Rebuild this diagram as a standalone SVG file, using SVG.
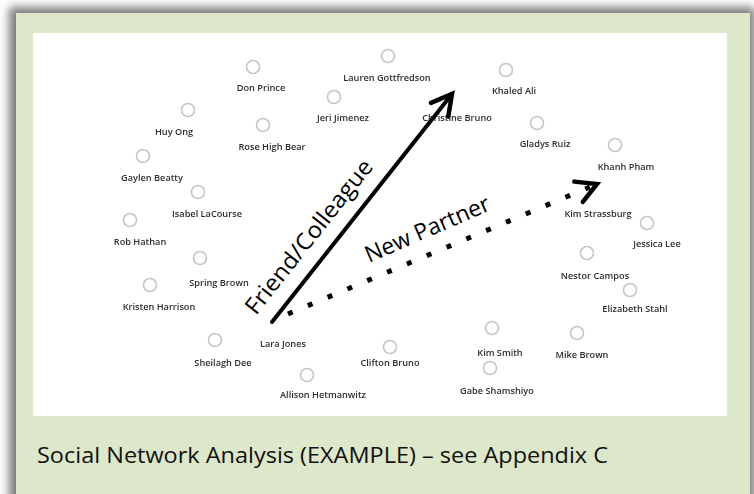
<svg xmlns="http://www.w3.org/2000/svg" width="754" height="494" viewBox="0 0 754 494">
<style>
.lbl{font-family:"Open Sans","Liberation Sans",sans-serif;font-size:9.2px;font-weight:600;fill:#2e2e2e;text-anchor:middle}
.nd{fill:#ffffff;stroke:#c6c6c6;stroke-width:1.6}
.big{font-family:"Open Sans","Liberation Sans",sans-serif;font-size:23px;fill:#000}
.cap{font-family:"Open Sans","Liberation Sans",sans-serif;font-size:22px;fill:#111}
</style>
<defs>
<filter id="sh" x="-10%" y="-10%" width="120%" height="120%"><feGaussianBlur stdDeviation="5"/></filter>
<filter id="soft" x="-10%" y="-10%" width="120%" height="120%"><feGaussianBlur stdDeviation="0.5"/></filter>
<marker id="vh" markerUnits="userSpaceOnUse" orient="auto" refX="0" refY="0" markerWidth="30" markerHeight="30" overflow="visible">
<path d="M-20,-11 L0,0 L-20,11" fill="none" stroke="#000" stroke-width="4.5" stroke-linejoin="miter" stroke-linecap="round"/>
</marker>
</defs>
<rect x="0" y="0" width="754" height="494" fill="#ffffff"/>
<rect x="9" y="7" width="746" height="500" fill="#7a7a7a" filter="url(#sh)"/>
<rect x="16" y="13" width="734" height="490" fill="#dde7c9"/>
<rect x="33" y="33" width="694" height="383" fill="#ffffff"/>
<g id="nodes" filter="url(#soft)">
<g id="n1"><circle class="nd" cx="253" cy="67" r="6.5"/><text class="lbl" x="261" y="90.5">Don Prince</text></g>
<g id="n2"><circle class="nd" cx="388" cy="56" r="6.5"/><text class="lbl" x="387" y="80.5">Lauren Gottfredson</text></g>
<g id="n3"><circle class="nd" cx="334" cy="97" r="6.5"/><text class="lbl" x="343" y="120.5">Jeri Jimenez</text></g>
<g id="n4"><text class="lbl" x="457" y="120.5">Christine Bruno</text></g>
<g id="n5"><circle class="nd" cx="506" cy="70" r="6.5"/><text class="lbl" x="514" y="93.5">Khaled Ali</text></g>
<g id="n6"><circle class="nd" cx="537" cy="123" r="6.5"/><text class="lbl" x="545" y="146.5">Gladys Ruiz</text></g>
<g id="n7"><circle class="nd" cx="615" cy="145" r="6.5"/><text class="lbl" x="626" y="169.5">Khanh Pham</text></g>
<g id="n8"><circle class="nd" cx="188" cy="110" r="6.5"/><text class="lbl" x="174" y="134.5">Huy Ong</text></g>
<g id="n9"><circle class="nd" cx="263" cy="125" r="6.5"/><text class="lbl" x="272" y="149.5">Rose High Bear</text></g>
<g id="n10"><circle class="nd" cx="143" cy="156" r="6.5"/><text class="lbl" x="152" y="180.5">Gaylen Beatty</text></g>
<g id="n11"><circle class="nd" cx="198" cy="192" r="6.5"/><text class="lbl" x="207" y="216.5">Isabel LaCourse</text></g>
<g id="n12"><circle class="nd" cx="130" cy="220" r="6.5"/><text class="lbl" x="140" y="244.5">Rob Hathan</text></g>
<g id="n13"><circle class="nd" cx="200" cy="258" r="6.5"/><text class="lbl" x="219" y="285.5">Spring Brown</text></g>
<g id="n14"><circle class="nd" cx="150" cy="285" r="6.5"/><text class="lbl" x="159" y="309.5">Kristen Harrison</text></g>
<g id="n15"><circle class="nd" cx="215" cy="340" r="6.5"/><text class="lbl" x="223" y="365.5">Sheilagh Dee</text></g>
<g id="n16"><text class="lbl" x="283" y="346.5">Lara Jones</text></g>
<g id="n17"><circle class="nd" cx="307" cy="375" r="6.5"/><text class="lbl" x="323" y="397.5">Allison Hetmanwitz</text></g>
<g id="n18"><circle class="nd" cx="390" cy="347" r="6.5"/><text class="lbl" x="390" y="365.5">Clifton Bruno</text></g>
<g id="n19"><circle class="nd" cx="492" cy="328" r="6.5"/><text class="lbl" x="500" y="355.5">Kim Smith</text></g>
<g id="n20"><circle class="nd" cx="490" cy="368" r="6.5"/><text class="lbl" x="497" y="393.5">Gabe Shamshiyo</text></g>
<g id="n21"><circle class="nd" cx="577" cy="333" r="6.5"/><text class="lbl" x="582" y="357.5">Mike Brown</text></g>
<g id="n22"><text class="lbl" x="598" y="216.5">Kim Strassburg</text></g>
<g id="n23"><circle class="nd" cx="647" cy="223" r="6.5"/><text class="lbl" x="657" y="246.5">Jessica Lee</text></g>
<g id="n24"><circle class="nd" cx="587" cy="253" r="6.5"/><text class="lbl" x="595" y="278.5">Nestor Campos</text></g>
<g id="n25"><circle class="nd" cx="630" cy="290" r="6.5"/><text class="lbl" x="635" y="311.5">Elizabeth Stahl</text></g>
</g>
<g id="connectors">
<line x1="272" y1="322" x2="452" y2="94" stroke="#000" stroke-width="4" stroke-linecap="round" marker-end="url(#vh)"/>
<line x1="288" y1="314" x2="597" y2="184" stroke="#000" stroke-width="5" stroke-dasharray="5 16.5" marker-end="url(#vh)"/>
<text class="big" transform="translate(256,316) rotate(-51.6)" x="0" y="0" textLength="190" lengthAdjust="spacingAndGlyphs">Friend/Colleague</text>
<text class="big" transform="translate(369,263) rotate(-23.5)" x="0" y="0" textLength="134" lengthAdjust="spacingAndGlyphs">New Partner</text>
</g>
<text class="cap" x="37" y="463" textLength="571" lengthAdjust="spacingAndGlyphs">Social Network Analysis (EXAMPLE) – see Appendix C</text>
</svg>
